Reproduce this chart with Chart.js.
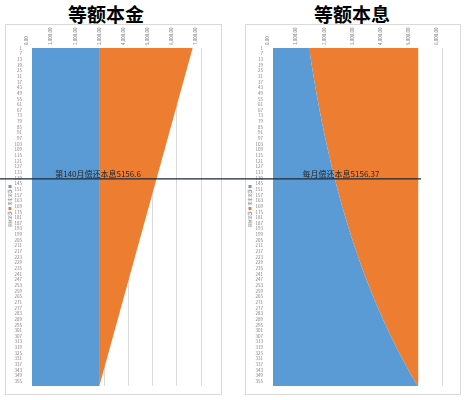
<!DOCTYPE html>
<html>
<head>
<meta charset="utf-8">
<script src="https://cdn.jsdelivr.net/npm/chart.js@4.4.0/dist/chart.umd.min.js"></script>
<style>
body{margin:0;background:#fff;width:466px;height:400px;position:relative;overflow:hidden;font-family:"Noto Sans CJK SC",sans-serif;}
.title{position:absolute;top:0;width:160px;text-align:center;font-size:19px;font-weight:bold;line-height:27px;color:#000;}
.frame{position:absolute;top:24px;height:371px;border:1px solid #d9d9d9;box-sizing:border-box;}
canvas{position:absolute;top:0;}
</style>
</head>
<body>
<div class="title" style="left:26px">等额本金</div>
<div class="title" style="left:272px">等额本息</div>
<div class="frame" style="left:5px;width:217px"></div>
<div class="frame" style="left:245px;width:216px"></div>
<canvas id="chart1" width="233" height="400" style="left:0"></canvas>
<canvas id="chart2" width="233" height="400" style="left:233px"></canvas>
<script>

// months shown on the chart (every 6th month labelled, plus the last month)
const months = [1,7,13,19,25,31,37,43,49,55,61,67,73,79,85,91,97,103,109,115,
121,127,133,139,145,151,157,163,169,175,181,187,193,199,205,211,217,223,229,235,
241,247,253,259,265,271,277,283,289,295,301,307,313,319,325,331,337,343,349,355,360];

const monthTicks = months.filter(m => (m - 1) % 6 === 0);

const seriesNames = ["偿还本金", "偿还利息"];

// 等额本金
const epPrincipal = [2778,2778,2778,2778,2778,2778,2778,2778,2778,2778,
2778,2778,2778,2778,2778,2778,2778,2778,2778,2778,
2778,2778,2778,2778,2778,2778,2778,2778,2778,2778,
2778,2778,2778,2778,2778,2778,2778,2778,2778,2778,
2778,2778,2778,2778,2778,2778,2778,2778,2778,2778,
2778,2778,2778,2778,2778,2778,2778,2778,2778,2778,2778];

const epInterest = [3875,3810,3746,3681,3617,3552,3488,3423,3358,3294,
3229,3165,3100,3035,2971,2906,2842,2777,2713,2648,
2583,2519,2454,2390,2325,2260,2196,2131,2067,2002,
1938,1873,1808,1744,1679,1615,1550,1485,1421,1356,
1292,1227,1163,1098,1033,969,904,840,775,710,
646,581,517,452,388,323,258,194,129,65,11];

// 等额本息
const eiPrincipal = [1281,1312,1342,1374,1406,1439,1473,1507,1543,1579,
1616,1654,1693,1733,1773,1815,1858,1901,1946,1991,
2038,2086,2135,2185,2236,2289,2343,2398,2454,2512,
2571,2631,2693,2756,2821,2887,2955,3024,3095,3168,
3242,3318,3396,3476,3557,3641,3726,3814,3903,3995,
4089,4185,4283,4383,4486,4592,4699,4810,4923,5038,5137];

const eiInterest = [3875,3844,3814,3782,3750,3717,3683,3649,3613,3577,
3540,3502,3463,3423,3383,3341,3298,3255,3210,3165,
3118,3070,3021,2971,2920,2867,2813,2758,2702,2644,
2585,2525,2463,2400,2335,2269,2201,2132,2061,1988,
1914,1838,1760,1680,1599,1515,1430,1342,1253,1161,
1067,971,873,773,670,564,457,346,233,118,19];

const noteMonth = 140;

Chart.defaults.font.family = '"Noto Sans CJK SC", "Noto Sans", sans-serif';


// legend drawn vertically at the left side
const sideLegend = {
id:"sideLegend",
afterDraw(chart, args, o){
const ctx = chart.ctx;
let y = o.y;
ctx.save();
ctx.font = '4px "Noto Sans CJK SC"';
chart.data.datasets.forEach(ds => {
ctx.fillStyle = ds.backgroundColor;
ctx.fillRect(o.x - 1.5, y, 3, 3);
ctx.save();
ctx.translate(o.x, y + 4.5);
ctx.rotate(Math.PI / 2);
ctx.fillStyle = "#7f7f7f";
ctx.textBaseline = "middle";
ctx.fillText(ds.label, 0, 0);
ctx.restore();
y += 22;
});
ctx.restore();
}
};


// horizontal marker line with its note
const noteLine = {
id:"noteLine",
afterDatasetsDraw(chart, args, o){
const ctx = chart.ctx;
const y = chart.scales.y.getPixelForValue(noteMonth);
ctx.save();
ctx.strokeStyle = "#1c2633";
ctx.lineWidth = 1.3;
ctx.beginPath();
ctx.moveTo(o.from, y);
ctx.lineTo(o.to, y);
ctx.stroke();
ctx.font = '8px "Noto Sans CJK SC"';
ctx.fillStyle = "#262626";
ctx.textAlign = "center";
ctx.textBaseline = "bottom";
ctx.fillText(o.text, o.textX, y - 1);
ctx.restore();
}
};


function makeChart(id, principal, interest, maxX, pad, legendX, note){

const points = vals => vals.map((v, i) => ({x:v, y:months[i]}));

new Chart(document.getElementById(id), {

type:"line",

data:{
datasets:[
{
label:seriesNames[0],
data:points(principal),
backgroundColor:"#5b9bd5",
borderWidth:0,
pointRadius:0,
fill:"origin"
},
{
label:seriesNames[1],
data:points(interest),
backgroundColor:"#ed7d31",
borderWidth:0,
pointRadius:0,
fill:"-1"
}
]
},

options:{
responsive:false,
animation:false,
indexAxis:"y",
layout:{padding:{left:pad[0], right:pad[1], top:0, bottom:14}},
plugins:{
legend:{display:false},
tooltip:{enabled:false},
sideLegend:{x:legendX, y:185},
noteLine:note
},
scales:{
x:{
type:"linear",
position:"top",
stacked:true,
min:0,
max:maxX,
grid:{color:"#d9d9d9", drawTicks:false},
border:{display:false},
ticks:{
stepSize:1000,
minRotation:90,
maxRotation:90,
padding:3,
color:"#7f7f7f",
font:{size:4.5},
callback:v => v.toLocaleString("en-US", {minimumFractionDigits:2, maximumFractionDigits:2})
},
afterFit:a => { a.height = 48; }
},
y:{
type:"linear",
reverse:true,
min:1,
max:360,
grid:{display:false},
border:{display:false},
ticks:{autoSkip:false, padding:2, color:"#7f7f7f", font:{size:4.5}},
afterBuildTicks:a => { a.ticks = monthTicks.map(v => ({value:v})); },
afterFit:a => { a.width = 20; }
}
}
},

plugins:[sideLegend, noteLine]

});

}


makeChart("chart1", epPrincipal, epInterest, 7000, [12, 32], 10,
{from:0, to:233, textX:98, text:"第140月偿还本息5156.6"});

makeChart("chart2", eiPrincipal, eiInterest, 6000, [20, 24], 17,
{from:0, to:188, textX:108, text:"每月偿还本息5156.37"});

</script>
</body>
</html>
